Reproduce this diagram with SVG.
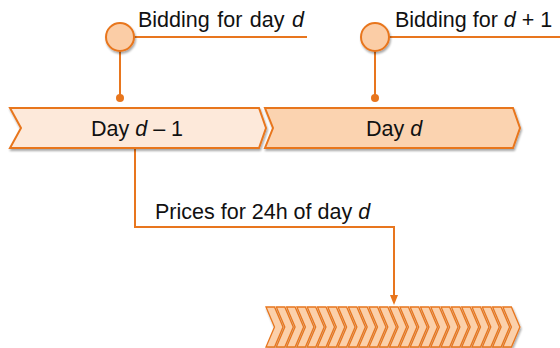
<svg xmlns="http://www.w3.org/2000/svg" width="560" height="348" viewBox="0 0 560 348">
  <style>
    text { font-family: "Liberation Sans", Arial, sans-serif; font-size: 21.5px; fill: #111; }
    .it { font-style: italic; }
    .line { stroke: #E8761E; stroke-width: 2; fill: none; }
    .dot { fill: #E8761E; }
    .bubble { fill: #FBCDA6; stroke: #E8761E; stroke-width: 2; }
    .band { stroke: #E8761E; stroke-width: 2; stroke-linejoin: miter; }
    .tick { fill: #FBD0AA; stroke: #E8761E; stroke-width: 1.3; }
  </style>
  <defs>
    <filter id="shadow" x="-10%" y="-10%" width="130%" height="140%">
      <feGaussianBlur in="SourceAlpha" stdDeviation="1"/>
      <feOffset dx="1" dy="2" result="b"/>
      <feComponentTransfer><feFuncA type="linear" slope="0.35"/></feComponentTransfer>
      <feMerge><feMergeNode/><feMergeNode in="SourceGraphic"/></feMerge>
    </filter>
    <marker id="arrow" markerWidth="10" markerHeight="10" refX="5" refY="5" orient="auto" markerUnits="userSpaceOnUse">
      <path d="M0,1 L10,5 L0,9 Z" fill="#E8761E"/>
    </marker>
    <path id="tk" d="M0,0 L8.5,0 L17,20 L8.5,40 L0,40 L8.5,20 Z"/>
  </defs>

  <!-- connectors -->
  <g id="connectors">
    <line class="line" x1="134" y1="37" x2="307" y2="37"/>
    <line class="line" x1="120" y1="51" x2="120" y2="98"/>
    <circle class="dot" cx="120" cy="98" r="4"/>
    <line class="line" x1="389" y1="37" x2="560" y2="37"/>
    <line class="line" x1="375" y1="51" x2="375" y2="98"/>
    <circle class="dot" cx="375" cy="98" r="4"/>
    <polyline class="line" points="135,149 135,227 394,227 394,300" marker-end="url(#arrow)"/>
  </g>

  <!-- bidding milestones -->
  <g id="bid-d">
    <circle class="bubble" cx="120" cy="37" r="14" filter="url(#shadow)"/>
    <text x="138" y="27" word-spacing="1.5">Bidding for day <tspan class="it">d</tspan></text>
  </g>
  <g id="bid-d1">
    <circle class="bubble" cx="375" cy="37" r="14" filter="url(#shadow)"/>
    <text x="395" y="27">Bidding for <tspan class="it">d</tspan> + 1</text>
  </g>

  <!-- day bands -->
  <g id="day-prev">
    <path class="band" d="M10,108 L259,108 L266,128 L259,148 L10,148 L21,128 Z" fill="#FDE9DA" filter="url(#shadow)"/>
    <text x="137" y="136" text-anchor="middle">Day <tspan class="it">d</tspan> – 1</text>
  </g>
  <g id="day-d">
    <path class="band" d="M265,108 L513,108 L520,128 L513,148 L265,148 L273,128 Z" fill="#FBD3B0" filter="url(#shadow)"/>
    <text x="394" y="136" text-anchor="middle">Day <tspan class="it">d</tspan></text>
  </g>

  <!-- price label -->
  <g id="prices">
    <text x="155" y="219">Prices for 24h of day <tspan class="it">d</tspan></text>
  </g>

  <!-- hourly slots -->
  <g id="hours" filter="url(#shadow)">
    <use href="#tk" class="tick" x="266" y="307"/>
    <use href="#tk" class="tick" x="276.3" y="307"/>
    <use href="#tk" class="tick" x="286.6" y="307"/>
    <use href="#tk" class="tick" x="296.9" y="307"/>
    <use href="#tk" class="tick" x="307.2" y="307"/>
    <use href="#tk" class="tick" x="317.5" y="307"/>
    <use href="#tk" class="tick" x="327.8" y="307"/>
    <use href="#tk" class="tick" x="338.1" y="307"/>
    <use href="#tk" class="tick" x="348.4" y="307"/>
    <use href="#tk" class="tick" x="358.7" y="307"/>
    <use href="#tk" class="tick" x="369" y="307"/>
    <use href="#tk" class="tick" x="379.3" y="307"/>
    <use href="#tk" class="tick" x="389.6" y="307"/>
    <use href="#tk" class="tick" x="399.9" y="307"/>
    <use href="#tk" class="tick" x="410.2" y="307"/>
    <use href="#tk" class="tick" x="420.5" y="307"/>
    <use href="#tk" class="tick" x="430.8" y="307"/>
    <use href="#tk" class="tick" x="441.1" y="307"/>
    <use href="#tk" class="tick" x="451.4" y="307"/>
    <use href="#tk" class="tick" x="461.7" y="307"/>
    <use href="#tk" class="tick" x="472" y="307"/>
    <use href="#tk" class="tick" x="482.3" y="307"/>
    <use href="#tk" class="tick" x="492.6" y="307"/>
    <use href="#tk" class="tick" x="502.9" y="307"/>
  </g>
</svg>
